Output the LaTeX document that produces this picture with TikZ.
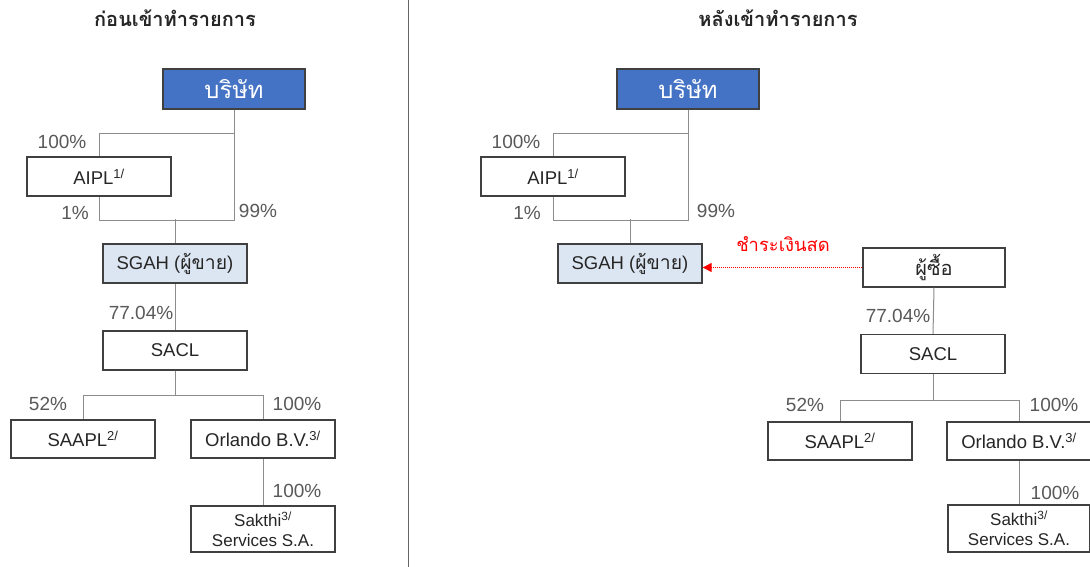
\documentclass[tikz,border=0pt]{standalone}
\usepackage{fontspec}
\setmainfont{Liberation Sans}
\newfontfamily\thai[Script=Thai,Scale=1.25]{Loma}
\usetikzlibrary{arrows.meta}
\definecolor{boxblue}{HTML}{4472C4}
\definecolor{lightblue}{HTML}{DCE6F2}
\definecolor{boxline}{HTML}{404040}
\definecolor{connline}{HTML}{8C8C8C}
\definecolor{pctgray}{HTML}{595959}
\begin{document}
\begin{tikzpicture}[x=1pt,y=-1pt,
  box/.style={draw=boxline, line width=1.3pt, minimum width=144pt, minimum height=39pt, inner sep=0pt, font=\fontsize{18.5}{20}\selectfont, text=black!85},
  topbox/.style={box, fill=boxblue, minimum width=142pt, minimum height=40pt, text=white, font=\thai\fontsize{19}{21}\selectfont},
  sellerbox/.style={box, fill=lightblue},
  conn/.style={draw=connline, line width=1pt},
  pct/.style={font=\fontsize{19}{21}\selectfont, text=pctgray, inner sep=0pt},
  ttl/.style={font=\thai\bfseries\fontsize{16}{18}\selectfont, text=black!85},
  pay/.style={draw=red, densely dotted, line width=1pt, -{Triangle[length=9pt,width=9pt]}}]
\useasboundingbox (0,0) rectangle (1090,567);
\fill[white] (0,0) rectangle (1090,567);
\draw[draw=black!60, line width=1pt] (408,0) -- (408,567);

% ---------- left ----------
\node[ttl] (t1) at (175,18) {ก่อนเข้าทำรายการ};
\node[topbox] (bor) at (234,89) {บริษัท};
\node[box] (aipl) at (99,176.5) {AIPL\textsuperscript{1/}};
\node[sellerbox] (sgah) at (175,263.5) {SGAH ({\thai\fontsize{15.5}{18}\selectfont ผู้ขาย})};
\node[box] (sacl) at (175,350.5) {SACL};
\node[box, minimum height=38pt] (saapl) at (83,439) {SAAPL\textsuperscript{2/}};
\node[box, minimum height=38pt] (orl) at (263,439) {Orlando B.V.\textsuperscript{3/}};
\node[box, minimum height=46pt, align=center, font=\fontsize{17}{20}\selectfont] (sak) at (263,529) {Sakthi\textsuperscript{3/}\\Services S.A.};

\draw[conn] (bor.south) -- ++(0,24) -| (aipl.north);
\draw[conn] (bor.south) -- ++(0,111) -| (aipl.south);
\draw[conn] (sgah.north) -- ++(0,-24);
\draw[conn] (sgah.south) -- (sacl.north);
\draw[conn] (sacl.south) -- ++(0,25) -| (saapl.north);
\draw[conn] (sacl.south) -- ++(0,25) -| (orl.north);
\draw[conn] (orl.south) -- (sak.north);

\node[pct] (p1) at (62,142) {100\%};
\node[pct] (p2) at (75,213) {1\%};
\node[pct] (p3) at (258,211) {99\%};
\node[pct] (p4) at (141,313) {77.04\%};
\node[pct] (p5) at (48,404) {52\%};
\node[pct] (p6) at (297,404) {100\%};
\node[pct] (p7) at (297,491) {100\%};

% ---------- right ----------
\node[ttl] (t2) at (778,18) {หลังเข้าทำรายการ};
\node[topbox] (bor2) at (688,89) {บริษัท};
\node[box] (aipl2) at (553,176.5) {AIPL\textsuperscript{1/}};
\node[sellerbox] (sgah2) at (630,263.5) {SGAH ({\thai\fontsize{15.5}{18}\selectfont ผู้ขาย})};
\node[box, minimum width=142pt, font=\thai\fontsize{16}{20}\selectfont] (buyer) at (934,267.5) {ผู้ซื้อ};
\node[box] (sacl2) at (933,354) {SACL};
\node[box, minimum height=38pt] (saapl2) at (840,441) {SAAPL\textsuperscript{2/}};
\node[box, minimum height=38pt] (orl2) at (1019,441) {Orlando B.V.\textsuperscript{3/}};
\node[box, minimum width=142pt, minimum height=47pt, align=center, font=\fontsize{17}{20}\selectfont] (sak2) at (1019,528.5) {Sakthi\textsuperscript{3/}\\Services S.A.};

\draw[conn] (bor2.south) -- ++(0,24) -| (aipl2.north);
\draw[conn] (bor2.south) -- ++(0,111) -| (aipl2.south);
\draw[conn] (sgah2.north) -- ++(0,-24);
\draw[conn] (buyer.south) -- (sacl2.north);
\draw[conn] (sacl2.south) -- ++(0,26) -| (saapl2.north);
\draw[conn] (sacl2.south) -- ++(0,26) -| (orl2.north);
\draw[conn] (orl2.south) -- (sak2.north);
\draw[pay] (buyer.west) -- (buyer.west -| sgah2.east);
\node[font=\thai\fontsize{14.7}{18}\selectfont, text=red, inner sep=0pt] (paylbl) at (783,244) {ชำระเงินสด};

\node[pct] (q1) at (516,142) {100\%};
\node[pct] (q2) at (527,213) {1\%};
\node[pct] (q3) at (716,211) {99\%};
\node[pct] (q4) at (898,316) {77.04\%};
\node[pct] (q5) at (805,405) {52\%};
\node[pct] (q6) at (1054,405) {100\%};
\node[pct] (q7) at (1055,493) {100\%};
\end{tikzpicture}
\end{document}
